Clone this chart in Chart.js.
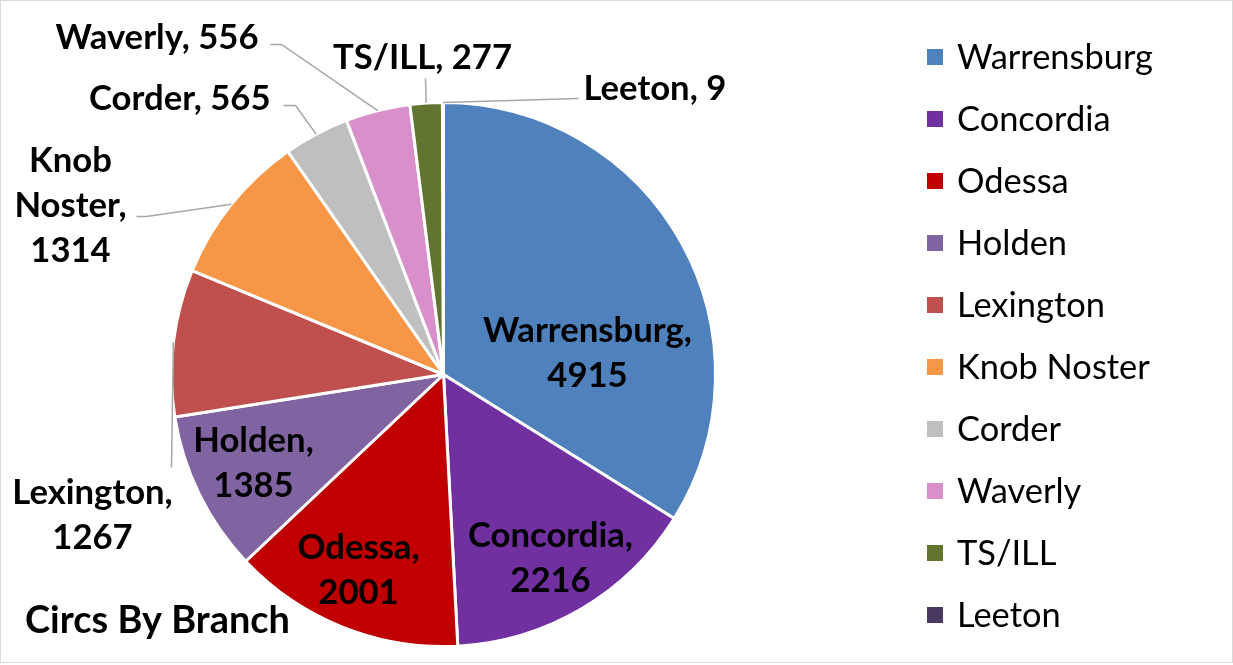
<!DOCTYPE html>
<html>
<head>
<meta charset="utf-8">
<script src="https://cdn.jsdelivr.net/npm/chart.js@4"></script>
<style>
  html, body { margin: 0; padding: 0; background: #fff; }
  #c { display: block; }
</style>
</head>
<body>
<canvas id="c" width="1233" height="665"></canvas>
<script>
// data
const branches = ['Warrensburg', 'Concordia', 'Odessa', 'Holden', 'Lexington',
                  'Knob Noster', 'Corder', 'Waverly', 'TS/ILL', 'Leeton'];
const circs = [4915, 2216, 2001, 1385, 1267, 1314, 565, 556, 277, 9];
const sliceColors = ['#4F81BD', '#7030A0', '#C00000', '#8064A2', '#C0504D',
                     '#F79646', '#BFBFBF', '#D98FC9', '#5F7530', '#4B3862'];
const chartTitle = 'Circs By Branch';

// where each data label sits, as offsets from the pie centre
// inside: text block centre; outside: first line + leader bend points
const labelLayout = [
  { lines: 2, dx: 144, dy: -21 },
  { lines: 2, dx: 107, dy: 184 },
  { lines: 2, dx: -85, dy: 196 },
  { lines: 2, dx: -190, dy: 89 },
  { lines: 2, dx: -351, dy: 118, align: 'center', leader: [[-272, 93]] },
  { lines: 3, dx: -373, dy: -214, align: 'center', split: true, leader: [[-307, -158], [-297, -158]] },
  { lines: 1, dx: -173, dy: -276, align: 'right', leader: [[-160, -269], [-148, -269]] },
  { lines: 1, dx: -185, dy: -337, align: 'right', leader: [[-173, -330], [-162, -330]] },
  { lines: 1, dx: -21, dy: -317, align: 'center', leader: [[-18, -296]] },
  { lines: 1, dx: 140, dy: -286, align: 'left', leader: [[135, -276]] }
];

const FONT = 'Lato, "Open Sans", sans-serif';

function fitSize(ctx, text, weight, target) {
  ctx.font = weight + ' 100px ' + FONT;
  return 100 * target / ctx.measureText(text).width;
}

const frame = {
  id: 'frame',
  beforeDraw(chart) {
    const ctx = chart.ctx;
    ctx.save();
    ctx.fillStyle = '#fff';
    ctx.fillRect(0, 0, chart.width, chart.height);
    ctx.strokeStyle = '#D9D9D9';
    ctx.lineWidth = 1;
    ctx.strokeRect(0.5, 0.5, chart.width - 1, chart.height - 3);
    ctx.restore();
  }
};

const sideLegend = {
  id: 'sideLegend',
  afterDraw(chart) {
    const ctx = chart.ctx;
    const labels = chart.data.labels;
    const colors = chart.data.datasets[0].backgroundColor;
    const size = fitSize(ctx, 'Warrensburg', 'normal', 196);
    ctx.save();
    ctx.font = 'normal ' + size + 'px ' + FONT;
    ctx.textBaseline = 'middle';
    ctx.textAlign = 'left';
    labels.forEach((lab, i) => {
      const y = 57 + i * 62;
      ctx.fillStyle = colors[i];
      ctx.fillRect(927, y - 8, 16, 16);
      ctx.fillStyle = '#000';
      ctx.fillText(lab, 957, y + 1);
    });
    ctx.restore();
  }
};

const sliceLabels = {
  id: 'sliceLabels',
  afterDatasetsDraw(chart) {
    const ctx = chart.ctx;
    const meta = chart.getDatasetMeta(0);
    const vals = chart.data.datasets[0].data;
    const size = fitSize(ctx, 'Warrensburg,', 'bold', 209);
    const lh = 45;
    ctx.save();
    ctx.font = 'bold ' + size + 'px ' + FONT;
    ctx.textBaseline = 'middle';
    meta.data.forEach((arc, i) => {
      const p = arc.getProps(['x', 'y', 'startAngle', 'endAngle', 'outerRadius'], true);
      const L = labelLayout[i];
      const name = chart.data.labels[i];
      let lines;
      if (L.split) {
        lines = name.split(' ');
        lines[lines.length - 1] += ',';
        lines.push(String(vals[i]));
      } else if (L.lines === 2) {
        lines = [name + ',', String(vals[i])];
      } else {
        lines = [name + ', ' + vals[i]];
      }
      if (L.leader) {
        const mid = (p.startAngle + p.endAngle) / 2;
        const ex = p.x + p.outerRadius * Math.cos(mid);
        const ey = p.y + p.outerRadius * Math.sin(mid);
        ctx.strokeStyle = '#A6A6A6';
        ctx.lineWidth = 1.5;
        ctx.beginPath();
        L.leader.forEach((q, k) => {
          if (k === 0) ctx.moveTo(p.x + q[0], p.y + q[1]);
          else ctx.lineTo(p.x + q[0], p.y + q[1]);
        });
        ctx.lineTo(ex, ey);
        ctx.stroke();
      }
      ctx.fillStyle = '#000';
      let x = p.x + L.dx;
      let y0;
      if (L.leader) {
        ctx.textAlign = L.align;
        y0 = p.y + L.dy;
      } else {
        ctx.textAlign = 'center';
        y0 = p.y + L.dy - (lines.length - 1) * lh / 2;
      }
      lines.forEach((t, k) => ctx.fillText(t, x, y0 + k * lh));
    });
    ctx.restore();
  }
};

const titleText = {
  id: 'titleText',
  afterDraw(chart) {
    const ctx = chart.ctx;
    const size = fitSize(ctx, chartTitle, 'bold', 265);
    ctx.save();
    ctx.font = 'bold ' + size + 'px ' + FONT;
    ctx.textBaseline = 'middle';
    ctx.textAlign = 'left';
    ctx.fillStyle = '#000';
    ctx.fillText(chartTitle, 25, 621);
    ctx.restore();
  }
};

new Chart(document.getElementById('c'), {
  type: 'pie',
  data: {
    labels: branches,
    datasets: [{
      data: circs,
      backgroundColor: sliceColors,
      borderColor: '#fff',
      borderWidth: 3,
      hoverOffset: 0
    }]
  },
  options: {
    responsive: false,
    animation: false,
    devicePixelRatio: 1,
    layout: { padding: { left: 170, top: 101, right: 516, bottom: 17 } },
    plugins: {
      legend: { display: false },
      tooltip: { enabled: false }
    }
  },
  plugins: [frame, sliceLabels, sideLegend, titleText]
});
</script>
</body>
</html>
